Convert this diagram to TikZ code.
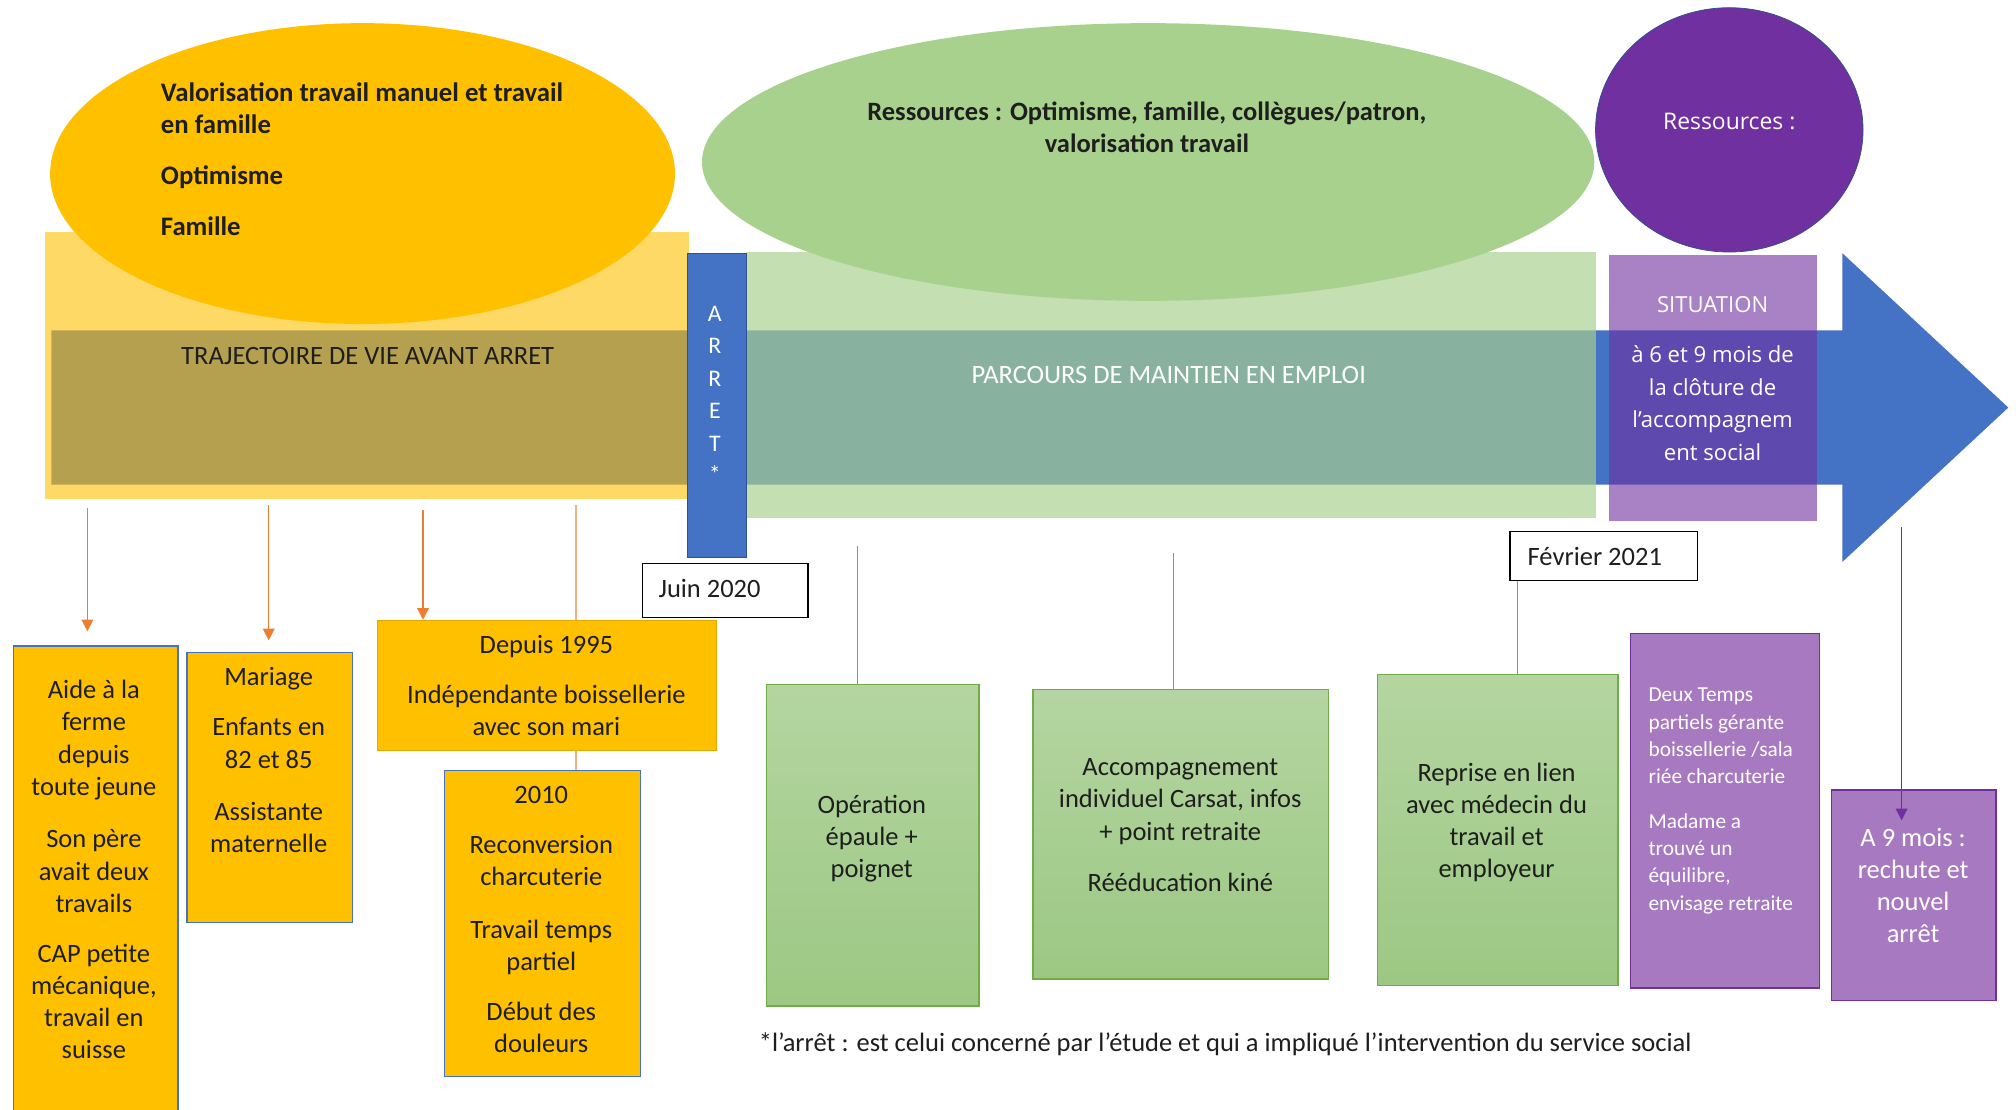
\documentclass[tikz,border=0pt]{standalone}
\usepackage{fontspec}
\setmainfont{Carlito}
\newfontfamily\wide{Open Sans}
\usetikzlibrary{shapes.geometric,arrows.meta}

\definecolor{arrblue}{HTML}{4472C4}
\definecolor{arrblueline}{HTML}{2F528F}
\definecolor{orangeF}{HTML}{FFC000}
\definecolor{greenE}{HTML}{A9D18E}
\definecolor{purpleE}{HTML}{7030A0}
\definecolor{boxpurple}{HTML}{A679C0}
\definecolor{greenline}{HTML}{70AD47}
\definecolor{greentop}{HTML}{B4D5A1}
\definecolor{greenbot}{HTML}{9CC883}
\definecolor{orangeline}{HTML}{ED7D31}
\definecolor{paleorange}{HTML}{F4B183}
\definecolor{orangeborder}{HTML}{E0A800}
\definecolor{txtc}{HTML}{1E1E1E}

\newcommand\fs[2]{\fontsize{#1}{#2}\selectfont}

\tikzset{
  txt/.style={inner sep=0pt, align=center, text=txtc, font=\fs{20.6}{25}},
  wtxt/.style={inner sep=0pt, align=center, text=white, font=\fs{20.6}{25}},
  box/.style={anchor=north west, inner sep=0pt, line width=0.9pt},
  orbox/.style={box, draw=arrblue, fill=orangeF},
  orbox2/.style={box, draw=orangeborder, fill=orangeF},
  grbox/.style={box, draw=greenline, top color=greentop, bottom color=greenbot},
  pubox/.style={box, draw=purpleE, fill=boxpurple},
  datebox/.style={box, draw=black, fill=white},
  band/.style={anchor=north west, inner sep=0pt, draw=none},
  orarrow/.style={draw=orangeline, line width=1pt, -{Triangle[width=9pt,length=9pt]}},
  grline/.style={draw=greenline, line width=0.9pt},
}

\begin{document}
\begin{tikzpicture}[x=1pt,y=-1pt]
\useasboundingbox[fill=white] (0,0) rectangle (1568,863);

% timeline arrow
\fill[arrblue] (40,257) -- (1433,257) -- (1433,197) -- (1562,317) -- (1433,437)
  -- (1433,377) -- (40,377) -- cycle;

% translucent period bands
\node[band, fill=orangeF, fill opacity=0.6, minimum width=501pt, minimum height=208pt] (avant) at (35,180) {};
\node[band, fill=greenE, fill opacity=0.68, minimum width=661pt, minimum height=207pt] (parcours) at (580,196) {};
\node[band, fill=purpleE, fill opacity=0.6, minimum width=162pt, minimum height=207pt] (situation) at (1251,198) {};

% resource ellipses
\node[ellipse, fill=orangeF, minimum width=486pt, minimum height=234pt, inner sep=0pt] (res1) at (282,135) {};
\node[ellipse, fill=greenE, minimum width=694pt, minimum height=216pt, inner sep=0pt] (res2) at (893,126) {};
\node[ellipse, fill=purpleE, draw=arrblueline, line width=0.6pt, minimum width=208pt, minimum height=190pt, inner sep=0pt] (res3) at (1345,101) {};

\node[txt, anchor=north west, align=left, font=\fs{20.8}{25}\bfseries] at (125,64)
  {Valorisation travail manuel et travail\\en famille\\[15pt]Optimisme\\[14pt]Famille};
\node[txt, anchor=north, font=\fs{20.6}{25}\bfseries] at (892,79)
  {Ressources : Optimisme, famille, collègues/patron,\\valorisation travail};
\node[wtxt, anchor=north, font=\fs{17.8}{25}\wide] at (1345,88) {Ressources :};

% band titles
\node[txt, anchor=north, font=\fs{20.6}{25}] at (286,270) {TRAJECTOIRE DE VIE AVANT ARRET};
\node[wtxt, anchor=north, font=\fs{20.6}{25}] at (909,285) {PARCOURS DE MAINTIEN EN EMPLOI};
\node[wtxt, anchor=north, font=\fs{17.2}{25.3}\wide] at (1332,230)
  {SITUATION\\[14pt]à 6 et 9 mois de\\la clôture de\\l’accompagnem\\ent social};

% the stop
\node[box, draw=arrblueline, fill=arrblue, line width=0.7pt, minimum width=46pt, minimum height=236pt] (arret) at (534,197) {};
\node[wtxt, anchor=north, font=\fs{18.5}{25.2}] at (556,238) {A\\R\\R\\E\\T\\[-1pt]*};

% dates
\node[datebox, minimum width=129pt, minimum height=42pt] (juin) at (499,438) {};
\node[txt, anchor=west] at (512,458) {Juin 2020};
\node[datebox, minimum width=146pt, minimum height=38pt] (fev) at (1174,413) {};
\node[txt, anchor=west] at (1188,433) {Février 2021};

% life events before the stop
\node[orbox, minimum width=128pt, minimum height=380pt] (bA) at (10,502) {};
\node[txt, anchor=north] at (73,529)
  {Aide à la\\ferme\\depuis\\toute jeune\\[16pt]Son père\\avait deux\\travails\\[14pt]CAP petite\\mécanique,\\travail en\\suisse};
\node[orbox, minimum width=129pt, minimum height=210pt] (bB) at (145,507) {};
\node[txt, anchor=north] at (209,519)
  {Mariage\\[14pt]Enfants en\\82 et 85\\[16pt]Assistante\\maternelle};
\node[orbox2, minimum width=264pt, minimum height=101pt] (bC) at (293,482) {};
\node[txt, anchor=north] at (425,494)
  {Depuis 1995\\[14pt]Indépendante boissellerie\\avec son mari};
\node[orbox, minimum width=153pt, minimum height=238pt] (bD) at (345,599) {};
\node[txt, anchor=north] at (421,611)
  {2010\\[14pt]Reconversion\\charcuterie\\[16pt]Travail temps\\partiel\\[14pt]Début des\\douleurs};

\coordinate (oa1) at (68,395);  \coordinate (oa2) at (68,491);
\coordinate (ob1) at (209,393); \coordinate (ob2) at (209,498);
\coordinate (oc1) at (329,397); \coordinate (oc2) at (329,482);
\coordinate (od1) at (448,393);
\draw[orarrow] (oa1) -- (oa2);
\draw[orarrow] (ob1) -- (ob2);
\draw[orarrow] (oc1) -- (oc2);
\draw[draw=paleorange, line width=1.2pt] (od1) -- (od1 |- bC.north);
\draw[draw=paleorange, line width=1.2pt] (od1 |- bC.south) -- (od1 |- bD.north);

% return-to-work steps
\node[grbox, minimum width=165pt, minimum height=250pt] (bE) at (596,532) {};
\node[txt, anchor=north] at (678,618) {Opération\\épaule +\\poignet};
\node[grbox, minimum width=230pt, minimum height=225pt] (bF) at (803,536) {};
\node[txt, anchor=north] at (918,590)
  {Accompagnement\\individuel Carsat, infos\\+ point retraite\\[15pt]Rééducation kiné};
\node[grbox, minimum width=187pt, minimum height=242pt] (bG) at (1071,524) {};
\node[txt, anchor=north] at (1164,593)
  {Reprise en lien\\avec médecin du\\travail et\\employeur};

\coordinate (ge) at (667,425);
\coordinate (gf) at (913,430);
\draw[grline] (ge) -- (ge |- bE.north);
\draw[grline] (gf) -- (gf |- bF.north);
\draw[grline] (1180,0 |- fev.south) -- (1180,0 |- bG.north);

% situation afterwards
\node[pubox, minimum width=147pt, minimum height=276pt] (bH) at (1268,492) {};
\node[wtxt, anchor=north west, align=left, font=\fs{16.6}{21.3}] at (1282,535)
  {Deux Temps\\partiels gérante\\boissellerie /sala\\riée charcuterie\\[13pt]Madame a\\trouvé un\\équilibre,\\envisage retraite};
\node[pubox, minimum width=128pt, minimum height=164pt] (bI) at (1424,614) {};
\node[wtxt, anchor=north] at (1488,644) {A 9 mois :\\rechute et\\nouvel\\arrêt};

\coordinate (pa) at (1479,410);
\draw[draw=purpleE, line width=1pt, -{Triangle[width=9pt,length=9pt]}] (pa) -- (1479,638);

% footnote
\node[txt, anchor=west, font=\fs{20.6}{25}] at (590,812)
  {*l’arrêt : est celui concerné par l’étude et qui a impliqué l’intervention du service social};
\end{tikzpicture}
\end{document}
